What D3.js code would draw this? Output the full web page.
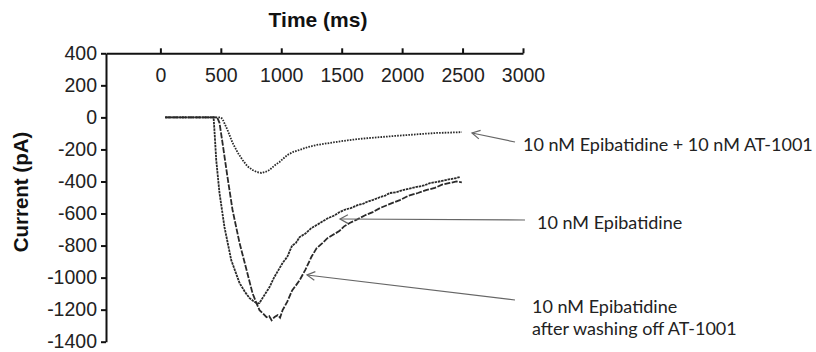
<!DOCTYPE html>
<html>
<head>
<meta charset="utf-8">
<script src="https://cdn.jsdelivr.net/npm/d3@7"></script>
<style>
  body { margin: 0; background: #fff; }
  svg { display: block; }
</style>
</head>
<body>
<svg id="chart" width="816" height="352"></svg>
<script>
// time (ms), current (pA)
var epiTrace = [[40,0],[440,0],[447,-78],[462,-266],[489,-472],[530,-684],[586,-891],[655,-1034],[700,-1090],[738,-1128],[775,-1150],[804,-1162],[820,-1158],[860,-1110],[903,-1059],[940,-1000],[975,-955],[1011,-909],[1050,-870],[1090,-800],[1120,-785],[1152,-747],[1200,-725],[1250,-690],[1293,-672],[1340,-650],[1390,-628],[1440,-612],[1483,-591],[1530,-575],[1580,-565],[1630,-548],[1680,-538],[1707,-528],[1760,-515],[1810,-500],[1860,-488],[1898,-472],[1950,-468],[2000,-455],[2060,-445],[2121,-434],[2180,-425],[2230,-410],[2287,-403],[2340,-395],[2400,-385],[2440,-380],[2478,-372]];
var washTrace = [[40,0],[470,0],[489,-34],[514,-159],[555,-372],[597,-578],[655,-784],[713,-953],[762,-1097],[790,-1150],[820,-1203],[850,-1225],[878,-1247],[900,-1240],[920,-1266],[945,-1245],[970,-1234],[990,-1250],[1011,-1203],[1050,-1150],[1090,-1080],[1120,-1050],[1152,-1016],[1200,-950],[1250,-870],[1293,-816],[1340,-785],[1380,-755],[1425,-734],[1480,-710],[1520,-680],[1566,-659],[1620,-640],[1690,-612],[1757,-591],[1820,-565],[1900,-540],[1981,-516],[2050,-490],[2130,-472],[2204,-453],[2270,-440],[2330,-420],[2395,-409],[2450,-400],[2494,-405]];
var atTrace = [[40,0],[500,0],[514,-10],[555,-78],[597,-159],[640,-220],[680,-266],[720,-305],[762,-328],[800,-342],[837,-347],[870,-340],[903,-328],[945,-300],[986,-278],[1020,-255],[1052,-234],[1100,-215],[1152,-203],[1220,-185],[1293,-172],[1380,-162],[1459,-153],[1550,-143],[1649,-134],[1740,-128],[1840,-122],[1950,-115],[2063,-109],[2170,-103],[2287,-97],[2390,-95],[2494,-92]];

var xTicks = [0, 500, 1000, 1500, 2000, 2500, 3000];
var yTicks = [400, 200, 0, -200, -400, -600, -800, -1000, -1200, -1400];

var svg = d3.select("#chart");
var x = d3.scaleLinear().domain([-450, 3000]).range([106, 523]);
var y = d3.scaleLinear().domain([-1400, 400]).range([341.7, 53.3]);
var plain = function(d){ return String(d); };

// x axis sits at the top, ticks point up, labels hang below
var gx = svg.append("g")
    .attr("transform", "translate(0," + y(400) + ")")
    .call(d3.axisTop(x).tickValues(xTicks).tickFormat(plain).tickSize(5).tickSizeOuter(0));
gx.selectAll("text").attr("y", 22).attr("dy", "0.32em");

var gy = svg.append("g")
    .attr("transform", "translate(" + x(-450) + ",0)")
    .call(d3.axisLeft(y).tickValues(yTicks).tickFormat(plain).tickSize(5).tickSizeOuter(0).tickPadding(4));

svg.selectAll(".domain").attr("stroke", "#111").attr("stroke-width", 2);
svg.selectAll(".tick line").attr("stroke", "#111").attr("stroke-width", 2);
svg.selectAll(".tick text")
    .attr("font-family", "Liberation Sans, Arial, sans-serif")
    .attr("font-size", 19.5)
    .attr("fill", "#222");

svg.append("text")
    .attr("x", 318).attr("y", 27)
    .attr("text-anchor", "middle")
    .attr("font-family", "Liberation Sans, Arial, sans-serif")
    .attr("font-weight", "bold")
    .attr("font-size", 21)
    .attr("fill", "#111")
    .text("Time (ms)");

svg.append("text")
    .attr("transform", "translate(28,192) rotate(-90)")
    .attr("text-anchor", "middle")
    .attr("font-family", "Liberation Sans, Arial, sans-serif")
    .attr("font-weight", "bold")
    .attr("font-size", 20.5)
    .attr("fill", "#111")
    .text("Current (pA)");

var line = d3.line()
    .x(function(d){ return x(d[0]); })
    .y(function(d){ return y(d[1]); })
    .curve(d3.curveLinear);

var traces = [
    {data: atTrace, dash: "1.6,1.2"},
    {data: washTrace, dash: "6,1.5"},
    {data: epiTrace, dash: "2.5,0.8"}
];
traces.forEach(function(t){
    svg.append("path")
        .datum(t.data)
        .attr("d", line)
        .attr("fill", "none")
        .attr("stroke", "#2a2a2a")
        .attr("stroke-width", 1.8)
        .attr("stroke-dasharray", t.dash);
});

// annotation arrows: [tip x, tip y, tail x, tail y]
var arrows = [[472, 133, 515, 142], [340, 219, 525, 220], [307, 275, 515, 300]];
arrows.forEach(function(a){
    var ang = Math.atan2(a[3] - a[1], a[2] - a[0]);
    var len = 9, spread = 0.5;
    svg.append("line")
        .attr("x1", a[0]).attr("y1", a[1]).attr("x2", a[2]).attr("y2", a[3])
        .attr("stroke", "#666").attr("stroke-width", 1.2);
    var p1 = [a[0] + len*Math.cos(ang - spread), a[1] + len*Math.sin(ang - spread)];
    var p2 = [a[0] + len*Math.cos(ang + spread), a[1] + len*Math.sin(ang + spread)];
    svg.append("path")
        .attr("d", "M" + p1 + "L" + a[0] + "," + a[1] + "L" + p2)
        .attr("fill", "none")
        .attr("stroke", "#666").attr("stroke-width", 1.2);
});

var labels = [
    {x: 523, y: 151, text: "10 nM Epibatidine + 10 nM AT-1001"},
    {x: 537, y: 229, text: "10 nM Epibatidine"},
    {x: 532, y: 313, text: "10 nM Epibatidine"},
    {x: 532, y: 335, text: "after washing off AT-1001"}
];
svg.selectAll(".note").data(labels).enter().append("text")
    .attr("class", "note")
    .attr("x", function(d){ return d.x; })
    .attr("y", function(d){ return d.y; })
    .attr("font-family", "Lato, 'Open Sans', sans-serif")
    .attr("font-size", 18)
    .attr("fill", "#222")
    .text(function(d){ return d.text; });
</script>
</body>
</html>
